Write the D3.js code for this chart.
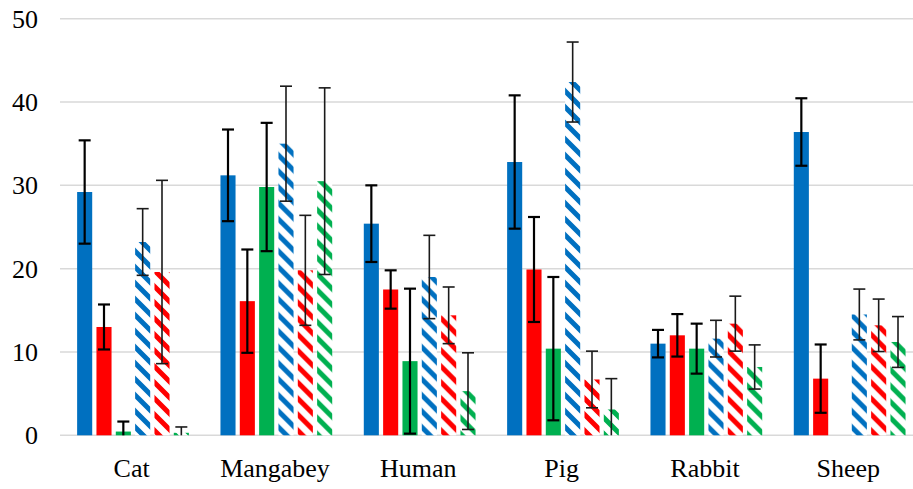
<!DOCTYPE html>
<html>
<head>
<meta charset="utf-8">
<script src="https://cdn.jsdelivr.net/npm/d3@7"></script>
<style>
  html, body { margin: 0; padding: 0; background: #fff; }
  svg { display: block; }
</style>
</head>
<body>
<svg id="chart" width="913" height="489"></svg>
<script>
// Species along the x axis
const categories = ["Cat", "Mangabey", "Human", "Pig", "Rabbit", "Sheep"];

// Series order within each species group
const seriesKeys = ["solidBlue", "solidRed", "solidGreen", "hatchBlue", "hatchRed", "hatchGreen"];

// Means per species
const solidBlue  = [29.2, 31.2, 25.4, 32.8, 11.0, 36.4];
const solidRed   = [13.0, 16.1, 17.5, 19.9, 12.0, 6.8];
const solidGreen = [0.45, 29.8, 8.9, 10.4, 10.4, 0];
const hatchBlue  = [23.2, 35.0, 19.0, 42.4, 11.6, 14.5];
const hatchRed   = [19.6, 19.8, 14.4, 6.7, 13.4, 13.2];
const hatchGreen = [0.3, 30.5, 5.3, 3.1, 8.2, 11.2];

// Error bar half-widths per species
const solidBlueErr  = [6.2, 5.5, 4.6, 8.0, 1.65, 4.05];
const solidRedErr   = [2.7, 6.2, 2.3, 6.3, 2.55, 4.1];
const solidGreenErr = [1.2, 7.7, 8.7, 8.6, 3.0, 0];
const hatchBlueErr  = [4.0, 6.9, 5.0, 4.8, 2.2, 3.05];
const hatchRedErr   = [11.0, 6.6, 3.4, 3.4, 3.3, 3.15];
const hatchGreenErr = [0.7, 11.2, 4.6, 3.7, 2.65, 3.05];

// Y axis ticks
const yTicks = [0, 10, 20, 30, 40, 50];

const seriesValues = { solidBlue, solidRed, solidGreen, hatchBlue, hatchRed, hatchGreen };
const seriesErrors = {
  solidBlue: solidBlueErr, solidRed: solidRedErr, solidGreen: solidGreenErr,
  hatchBlue: hatchBlueErr, hatchRed: hatchRedErr, hatchGreen: hatchGreenErr
};
const seriesStyle = {
  solidBlue:  { color: "#0070C0", hatched: false },
  solidRed:   { color: "#FF0000", hatched: false },
  solidGreen: { color: "#00B050", hatched: false },
  hatchBlue:  { color: "#0070C0", hatched: true },
  hatchRed:   { color: "#FF0000", hatched: true },
  hatchGreen: { color: "#00B050", hatched: true }
};

const FONT = "Liberation Serif";
const svg = d3.select("#chart");

// Diagonal stripe fills for the hatched series
const P = 16;
const defs = svg.append("defs");
seriesKeys.filter(k => seriesStyle[k].hatched).forEach(k => {
  const p = defs.append("pattern")
    .attr("id", "hatch-" + k)
    .attr("patternUnits", "userSpaceOnUse")
    .attr("width", P).attr("height", P);
  p.append("rect").attr("width", P).attr("height", P).attr("fill", "#fff");
  p.append("path")
    .attr("d", `M-4,-4 L${P + 4},${P + 4} M-4,${P - 4} L4,${P + 4} M${P - 4},-4 L${P + 4},4`)
    .attr("stroke", seriesStyle[k].color)
    .attr("stroke-width", 5);
});

const x0 = d3.scaleBand().domain(categories).range([60, 920]);
const x1 = d3.scaleBand().domain(seriesKeys).range([15, 131])
  .paddingInner(0.22).paddingOuter(0.11);
const y = d3.scaleLinear().domain([0, 50]).range([435.3, 18.7]);

// Horizontal gridlines
svg.append("g").selectAll("line").data(yTicks).join("line")
  .attr("x1", 60).attr("x2", 913)
  .attr("y1", d => y(d)).attr("y2", d => y(d))
  .attr("stroke", "#D9D9D9").attr("stroke-width", 1.5);

// Y axis labels
const yAxis = d3.axisLeft(y).tickValues(yTicks).tickSize(0).tickPadding(0);
const yg = svg.append("g").attr("transform", "translate(38,0)").call(yAxis)
  .attr("font-family", FONT).attr("font-size", 26);
yg.select(".domain").remove();
yg.selectAll("text").attr("dy", "0.33em").attr("fill", "#000")
  .attr("font-family", FONT).attr("font-size", 26);

// X axis labels
const xAxis = d3.axisBottom(x0).tickSize(0).tickPadding(0);
const xg = svg.append("g").attr("transform", "translate(0,457)").call(xAxis)
  .attr("font-family", FONT).attr("font-size", 26);
xg.select(".domain").remove();
xg.selectAll("text").attr("dy", "0.76em").attr("fill", "#000")
  .attr("font-family", FONT).attr("font-size", 26);

// Bars and error bars
const groups = svg.append("g").selectAll("g").data(categories).join("g")
  .attr("transform", d => `translate(${x0(d)},0)`);

const rows = ci => seriesKeys.map(k => ({
  key: k, value: seriesValues[k][ci], err: seriesErrors[k][ci]
}));

groups.each(function(cat, ci) {
  const g = d3.select(this);
  const data = rows(ci);

  g.selectAll("rect.bar").data(data).join("rect")
    .attr("class", "bar")
    .attr("x", d => x1(d.key))
    .attr("width", x1.bandwidth())
    .attr("y", d => y(d.value))
    .attr("height", d => y(0) - y(d.value))
    .attr("fill", d => seriesStyle[d.key].hatched ? `url(#hatch-${d.key})` : seriesStyle[d.key].color);

  const eb = g.selectAll("g.err").data(data.filter(d => d.err > 0)).join("g")
    .attr("class", "err")
    .attr("stroke", d => seriesStyle[d.key].hatched ? "#1a1a1a" : "#000")
    .attr("stroke-width", d => seriesStyle[d.key].hatched ? 1.6 : 2.2);

  const cx = d => x1(d.key) + x1.bandwidth() / 2;
  const hi = d => y(d.value + d.err);
  const lo = d => y(Math.max(0, d.value - d.err));
  const cap = 6;

  eb.append("line").attr("x1", cx).attr("x2", cx).attr("y1", hi).attr("y2", lo);
  eb.append("line").attr("x1", d => cx(d) - cap).attr("x2", d => cx(d) + cap)
    .attr("y1", hi).attr("y2", hi);
  eb.filter(d => d.value - d.err > 0).append("line")
    .attr("x1", d => cx(d) - cap).attr("x2", d => cx(d) + cap)
    .attr("y1", lo).attr("y2", lo);
});
</script>
</body>
</html>
